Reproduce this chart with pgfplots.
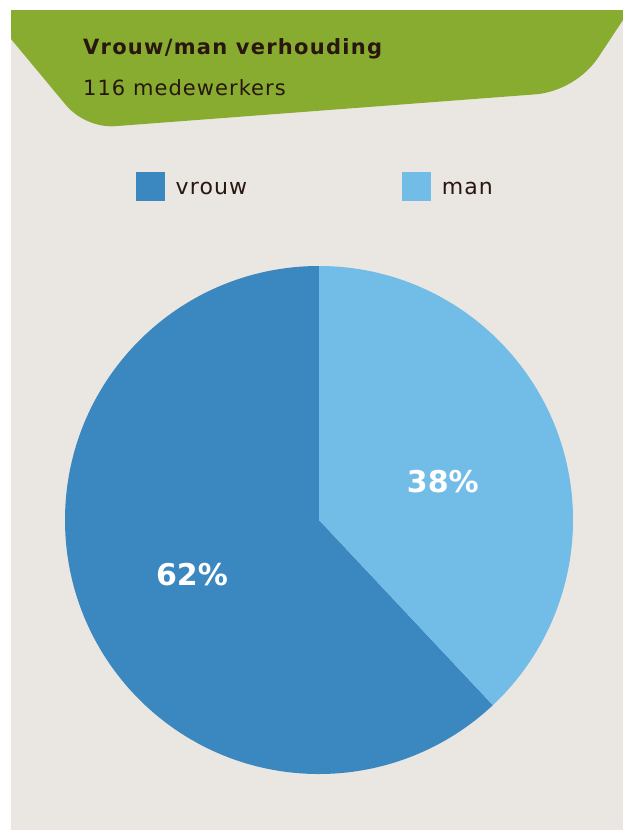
\documentclass[border=0pt]{standalone}
\usepackage{pgfplots}
\pgfplotsset{compat=1.18}
\usepackage{pgfplotstable}
\usepackage{fontspec}
\setmainfont{DejaVu Sans}
\newfontfamily\titlefont{DejaVu Sans}[LetterSpace=6]
\newfontfamily\subfont{DejaVu Sans}[LetterSpace=5]
\newfontfamily\legfont{DejaVu Sans}[LetterSpace=5]
\definecolor{bg}{RGB}{234,230,226}
\definecolor{hdr}{RGB}{135,172,47}
\definecolor{ink}{RGB}{40,22,15}
\definecolor{vrouwc}{RGB}{59,136,192}
\definecolor{manc}{RGB}{114,188,232}

\pgfplotstableread{
label share
vrouw 62
man 38
}\piedata

\begin{document}
\begin{tikzpicture}
\pgfplotstablegetelem{0}{share}\of\piedata \pgfmathtruncatemacro{\vrouwshare}{\pgfplotsretval}
\pgfplotstablegetelem{1}{share}\of\piedata \pgfmathtruncatemacro{\manshare}{\pgfplotsretval}
\pgfmathsetmacro{\vend}{90+3.6*\vrouwshare}
\fill[white] (0pt,0pt) rectangle (623pt,-830pt);
\begin{scope}[x=1pt,y=-1pt]
\fill[bg] (11,10) rectangle (623,830);
\fill[hdr] (11,10) -- (623,10) -- (623,20) -- (598.1,57.6) .. controls (584.8,77.6) and (560.1,92.2) .. (536.1,94.3) -- (114.9,126.2) .. controls (97.0,127.4) and (77.3,118.8) .. (65.8,104.9) -- (11,39) -- cycle;
\node[anchor=base west, inner sep=0pt, text=ink, font=\titlefont\bfseries\fontsize{21}{25}\selectfont] at (83,54) {Vrouw/man verhouding};
\node[anchor=base west, inner sep=0pt, text=ink, font=\subfont\fontsize{21}{25}\selectfont] at (83,95.3) {116 medewerkers};
\end{scope}
\begin{axis}[at={(319pt,-520pt)}, anchor=origin, x=254pt, y=254pt,
  xmin=-1, xmax=1, ymin=-1, ymax=1, hide axis, clip=false,
  legend columns=2,
  legend image code/.code={\fill[#1, draw=none] (0pt,-14.5pt) rectangle (29pt,14.5pt);},
  legend style={at={(axis description cs:0.1398,1.1856)}, anchor=north west,
    draw=none, fill=none, inner xsep=0pt, inner ysep=0pt,
    font=\legfont\fontsize{22}{26}\selectfont, text=ink,
    nodes={inner sep=0pt, text height=16.2pt, text depth=0pt},
    /tikz/every odd column/.append style={column sep=10.5pt},
    /tikz/every even column/.append style={column sep=155.3pt}},
]
\addlegendimage{fill=vrouwc}
\addlegendentry{vrouw}
\addlegendimage{fill=manc}
\addlegendentry{man}
\fill[vrouwc] (axis cs:0,0) -- (axis cs:0,1) arc[start angle=90, end angle=\vend, radius=254pt] -- cycle;
\fill[manc] (axis cs:0,0) -- (axis cs:0,1) arc[start angle=90, end angle={\vend-360}, radius=254pt] -- cycle;
\node[text=white, inner sep=0pt, text depth=0pt, font=\bfseries\fontsize{30}{36}\selectfont] at (axis cs:0.4874,0.1524) {\manshare\%};
\node[text=white, inner sep=0pt, text depth=0pt, font=\bfseries\fontsize{30}{36}\selectfont] at (axis cs:-0.5,-0.2154) {\vrouwshare\%};
\end{axis}
\pgfresetboundingbox
\useasboundingbox (0pt,0pt) rectangle (623pt,-830pt);
\end{tikzpicture}
\end{document}
